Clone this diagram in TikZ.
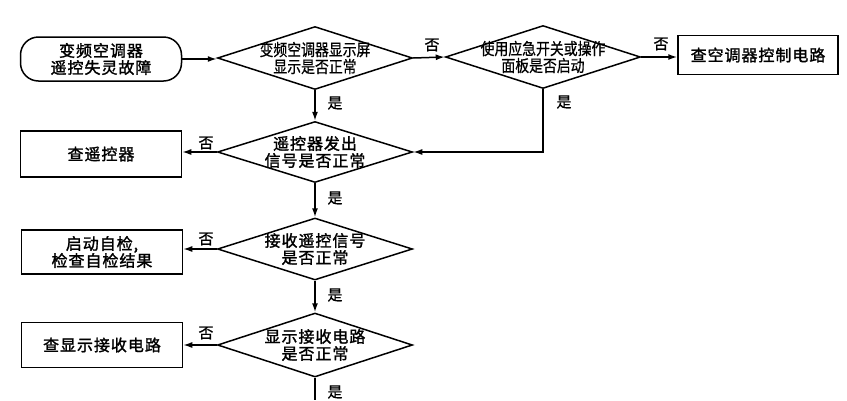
\documentclass[tikz,border=0pt]{standalone}
\usepackage{fontspec}
\usetikzlibrary{shapes.geometric,arrows.meta}
\newfontfamily\cjk{Noto Sans CJK SC}[LetterSpace=6, FakeBold=1.6]
\newfontfamily\cjkn{Noto Sans CJK SC}[FakeStretch=0.84, FakeBold=0.6]
\newfontfamily\cjkl{Noto Sans CJK SC}[FakeBold=0.8]
\begin{document}
\begin{tikzpicture}[x=1pt,y=-1pt,
  line width=1.5pt,
  arr/.style={-{Latex[length=9pt,width=6pt]}},
  box/.style={draw, rectangle, minimum width=161pt, minimum height=44pt, inner sep=0pt,
    font=\fontsize{16}{17}\cjk, align=center},
  startbox/.style={box, rounded corners=18pt},
  dia/.style={draw, diamond, minimum width=195pt, minimum height=63pt, inner sep=0pt},
  dtext/.style={font=\fontsize{16}{17}\cjk, align=center, inner sep=0pt},
  ntext/.style={font=\fontsize{16.5}{17}\cjkn, align=center, inner sep=0pt},
  lab/.style={font=\fontsize{15}{15}\cjkl, inner sep=0pt}
]
\useasboundingbox (0,0) rectangle (847,400);
\fill[white] (0,0) rectangle (847,400);

% nodes
\node[startbox] (start) at (101,59) {变频空调器\\遥控失灵故障};
\node[dia] (d1) at (315,58) {};
\node[ntext] (d1t) at (315,58) {变频空调器显示屏\\显示是否正常};
\node[dia] (d3) at (543,57) {};
\node[ntext] (d3t) at (543,57) {使用应急开关或操作\\面板是否启动};
\node[box, minimum width=160pt, minimum height=39pt] (ctrl) at (758,55) {查空调器控制电路};

\node[box, minimum height=46pt] (remote) at (101,154) {查遥控器};
\node[dia, minimum height=61pt] (d2) at (315,152) {};
\node[dtext] (d2t) at (315,152) {遥控器发出\\信号是否正常};

\node[box] (self) at (102,252) {启动自检,\\检查自检结果};
\node[dia, minimum height=62pt] (d4) at (315,249) {};
\node[dtext] (d4t) at (315,249) {接收遥控信号\\是否正常};

\node[box, minimum height=45pt] (disp) at (102,345) {查显示接收电路};
\node[dia, minimum height=64pt] (d5) at (315,345) {};
\node[dtext] (d5t) at (315,345) {显示接收电路\\是否正常};

\coordinate (endpt) at (315,400);

% connectors
\draw[arr] (start.east) -- (start.east -| d1.west);
\draw[arr] (d1.east) -- (d3.west);
\draw[arr] (d3.east) -- (d3.east -| ctrl.west);
\draw[arr] (d3.south) |- (d2.east);
\draw[arr] (d1.south) -- (d2.north);
\draw[arr] (d2.west) -- (d2.west -| remote.east);
\draw[arr] (d2.south) -- (d4.north);
\draw[arr] (d4.west) -- (d4.west -| self.east);
\draw[arr] (d4.south) -- (d5.north);
\draw[arr] (d5.west) -- (d5.west -| disp.east);
\draw (d5.south) -- (endpt);

% labels
\node[lab] (l1) at (432,45) {否};
\node[lab] (l2) at (661,44) {否};
\node[lab] (l3) at (564,102) {是};
\node[lab] (l4) at (335,103) {是};
\node[lab] (l5) at (206,143) {否};
\node[lab] (l6) at (335,198) {是};
\node[lab] (l7) at (206,239) {否};
\node[lab] (l8) at (335,295) {是};
\node[lab] (l9) at (206,333) {否};
\node[lab] (l10) at (335,392) {是};
\end{tikzpicture}
\end{document}
